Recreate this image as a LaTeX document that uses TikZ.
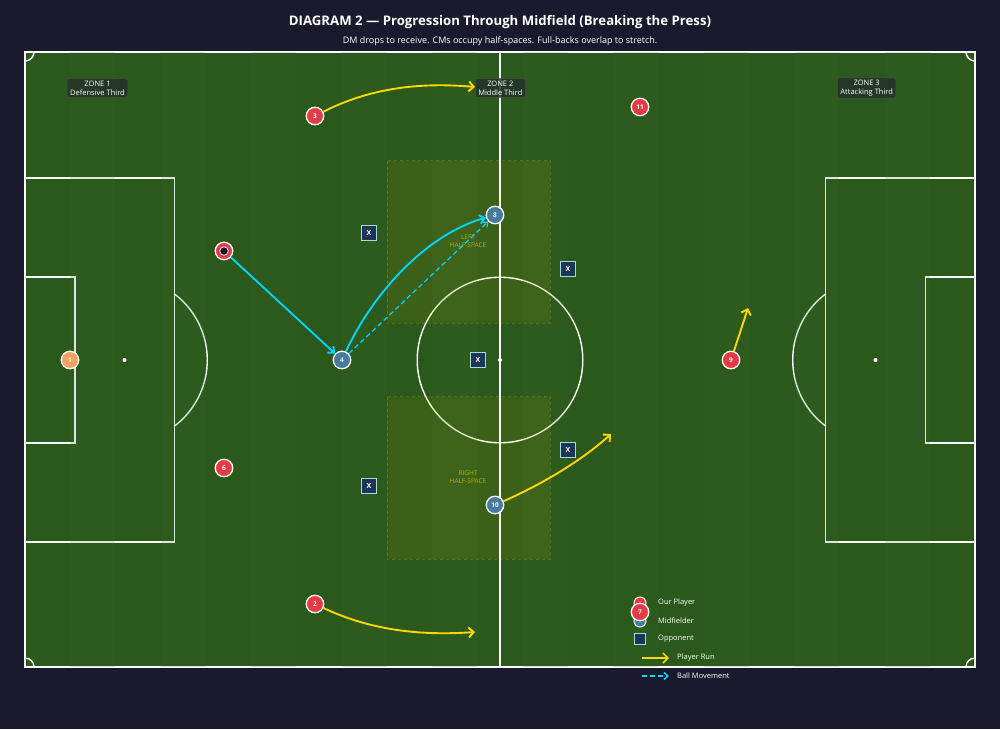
\documentclass[tikz,border=0pt]{standalone}
\usepackage{fontspec}
\setmainfont{Open Sans}
\usetikzlibrary{arrows.meta}
\definecolor{bg}{HTML}{1A1A2E}
\definecolor{grass}{HTML}{2B581B}
\definecolor{stripec}{HTML}{3A6B2A}
\definecolor{pred}{HTML}{E63946}
\definecolor{pblue}{HTML}{457B9D}
\definecolor{porange}{HTML}{F4A261}
\definecolor{oppfill}{HTML}{1D3557}
\definecolor{oppedge}{HTML}{A8DADC}
\definecolor{runy}{HTML}{FFD700}
\definecolor{ballc}{HTML}{00D4FF}
\definecolor{zonefill}{HTML}{23332A}
\definecolor{hsy}{HTML}{C8C000}
\tikzset{
  pline/.style={draw=white, line width=1.4pt},
  player/.style={circle, fill=pred, draw=white, line width=1.3pt, minimum size=17.5pt, inner sep=0pt, text=white, font=\bfseries\fontsize{6.5}{6.5}\selectfont},
  mid/.style={player, fill=pblue},
  keeper/.style={player, fill=porange},
  opp/.style={rectangle, fill=oppfill, draw=oppedge, line width=1.3pt, minimum size=15.5pt, inner sep=0pt, text=white, font=\bfseries\fontsize{7}{7}\selectfont},
  zone/.style={rectangle, rounded corners=1.5pt, fill=zonefill, fill opacity=0.85, text opacity=1, draw=black!70, line width=0.5pt, text=white!80, align=center, inner xsep=3pt, inner ysep=2pt, font=\fontsize{7.5}{9}\selectfont},
  hslabel/.style={text=hsy, text opacity=0.85, align=center, font=\fontsize{6.5}{8}\selectfont},
  run/.style={draw=runy, line width=1.9pt, -{Straight Barb[length=5pt,width=10pt]}},
  ball/.style={draw=ballc, line width=1.9pt, -{Straight Barb[length=5pt,width=9pt]}},
  balldash/.style={draw=ballc, line width=1.2pt, dash pattern=on 5pt off 3pt, -{Straight Barb[length=4pt,width=7pt]}},
  legtext/.style={anchor=west, text=white!90, font=\fontsize{7.5}{8}\selectfont, inner sep=0pt},
}
\begin{document}
\begin{tikzpicture}[x=1pt,y=-1pt]
\useasboundingbox (0,0) rectangle (1000,729);
\fill[bg] (0,0) rectangle (1000,729);
% title
\node[text=white, font=\bfseries\fontsize{13.2}{14}\selectfont] (title) at (500,22) {DIAGRAM 2 — Progression Through Midfield (Breaking the Press)};
\node[text=white!62, font=\fontsize{9}{10}\selectfont] (subtitle) at (500,41) {DM drops to receive. CMs occupy half-spaces. Full-backs overlap to stretch.};
% pitch
\fill[grass] (25,52) rectangle (975,667);
\draw[pline] (25,52) rectangle (975,667);
\draw[pline] (500,52) -- (500,667);
\draw[pline] (500,360) circle (82.8);
\fill[white] (500,360) circle (2);
\draw[pline] (25,178) rectangle (174.3,542);
\draw[pline] (25,277) rectangle (74.8,443);
\fill[white] (124.5,360) circle (2);
\draw[pline] (124.5,360) ++(-53.13:82.8) arc[start angle=-53.13, end angle=53.13, radius=82.8];
\draw[pline] (975,178) rectangle (825.7,542);
\draw[pline] (975,277) rectangle (925.2,443);
\fill[white] (875.5,360) circle (2);
\draw[pline] (875.5,360) ++(126.87:82.8) arc[start angle=126.87, end angle=233.13, radius=82.8];
\draw[pline] (34,52) arc[start angle=0, end angle=90, radius=9];
\draw[pline] (966,52) arc[start angle=180, end angle=90, radius=9];
\draw[pline] (34,667) arc[start angle=0, end angle=-90, radius=9];
\draw[pline] (966,667) arc[start angle=180, end angle=270, radius=9];
% stripes
\foreach \i in {1,3,...,19} {
  \fill[stripec, opacity=0.17] ({25+\i*45.238},52) rectangle ({25+(\i+1)*45.238},667);
}
% half-spaces
\fill[runy, opacity=0.08] (387,160.6) rectangle (550,323.4);
\draw[runy, opacity=0.2, dashed, line width=0.6pt] (387,160.6) rectangle (550,323.4);
\fill[runy, opacity=0.08] (387,396.6) rectangle (550,559.4);
\draw[runy, opacity=0.2, dashed, line width=0.6pt] (387,396.6) rectangle (550,559.4);
\node[hslabel] (hsl) at (468,241) {LEFT\\HALF-SPACE};
\node[hslabel] (hsr) at (468,477) {RIGHT\\HALF-SPACE};
% zone labels
\node[zone] (z1) at (97.5,88) {ZONE 1\\Defensive Third};
\node[zone] (z2) at (500.3,88) {ZONE 2\\Middle Third};
\node[zone] (z3) at (866.7,88) {ZONE 3\\Attacking Third};
% players
\node[keeper] (p1) at (70,360) {1};
\node[player] (p3) at (315,116) {3};
\node[player] (p11) at (640,107) {11};
\node[player] (p5) at (224,251) {};
\node[circle, fill=bg!80!black, draw=white, line width=0.7pt, minimum size=8.5pt, inner sep=0pt] (ballm) at (224,251) {};
\node[player] (p6) at (224,468) {6};
\node[player] (p2) at (315,604) {2};
\node[player] (p9) at (731,360) {9};
\node[mid] (p8) at (495,215) {8};
\node[mid] (p4) at (342,360) {4};
\node[mid] (p10) at (495,505) {10};
% opponents
\node[opp] (o1) at (369,233) {X};
\node[opp] (o2) at (568,269) {X};
\node[opp] (o3) at (478,360) {X};
\node[opp] (o4) at (568,450) {X};
\node[opp] (o5) at (369,486) {X};
% run endpoints
\coordinate (r3) at (475,87);
\coordinate (r2) at (475,632);
\coordinate (r9) at (748,308);
\coordinate (r10) at (611,434);
% runs
\draw[run] (p3) .. controls (370,88) and (420,82) .. (r3);
\draw[run] (p2) .. controls (370,630) and (420,636) .. (r2);
\draw[run] (p9) -- (r9);
\draw[run] (p10) .. controls (540,485) and (580,462) .. (r10);
% ball movement
\draw[ball] (p5) -- (p4);
\draw[ball] (p4) .. controls (372,295) and (425,235) .. (p8);
\draw[balldash] (p4) -- (p8);
% legend
\node[circle, fill=pred, draw=white, line width=1pt, minimum size=12pt, inner sep=0pt] (lg1) at (640,603) {};
\node[legtext] (lt1) at (658,603) {Our Player};
\node[circle, fill=pblue, draw=white, line width=1pt, minimum size=12pt, inner sep=0pt] (lg2) at (640,621) {};
\node[legtext] (lt2) at (658,621) {Midfielder};
\node[rectangle, fill=oppfill, draw=oppedge, line width=1pt, minimum size=11pt, inner sep=0pt] (lg3) at (640,639) {};
\node[legtext] (lt3) at (658,639) {Opponent};
\coordinate (la1) at (642,658);
\coordinate (lb1) at (669,658);
\draw[run, line width=1.5pt] (la1) -- (lb1);
\node[legtext] (lt4) at (677,658) {Player Run};
\coordinate (la2) at (642,676);
\coordinate (lb2) at (669,676);
\draw[balldash, line width=1.5pt] (la2) -- (lb2);
\node[legtext] (lt5) at (677,676) {Ball Movement};
\node[player] (p7) at (640,612) {7};
\end{tikzpicture}
\end{document}
